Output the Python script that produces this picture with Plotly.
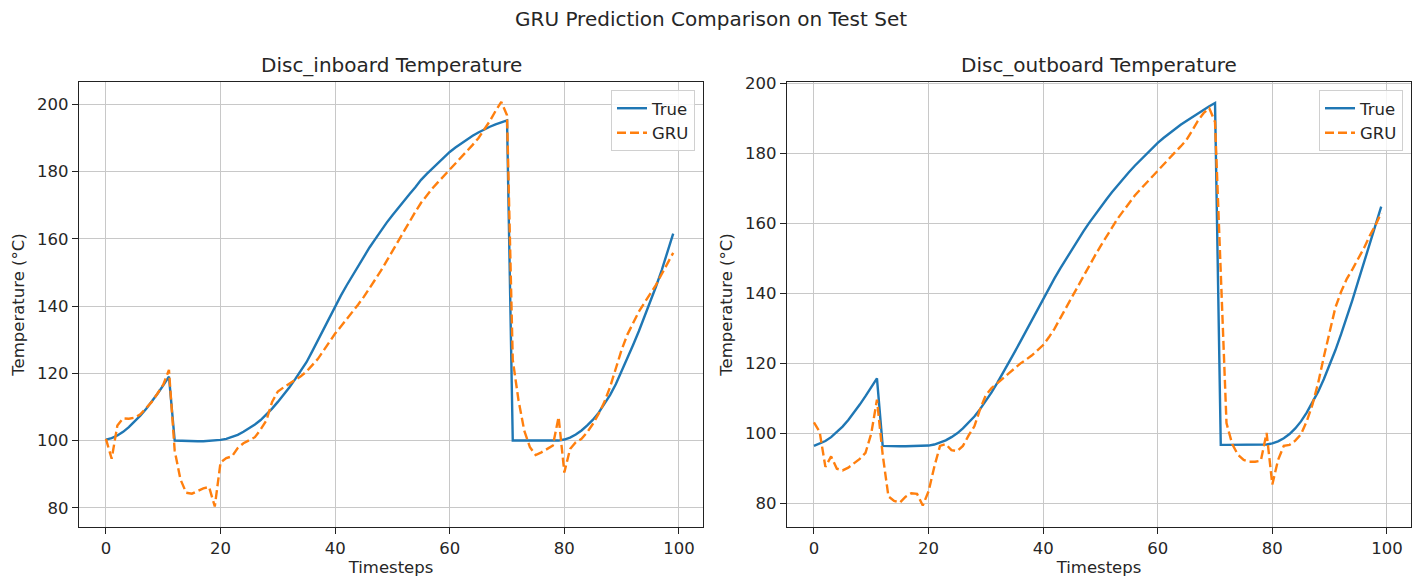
import plotly.graph_objects as go

timesteps = list(range(100))

inboard_true = [
    100.3, 100.7, 101.5, 102.6, 104.0, 105.6, 107.4, 109.4, 111.5, 113.9, 116.4, 119.0,
    100.0, 99.9, 99.9, 99.8, 99.8, 99.8, 99.9, 100.0,
    100.2, 100.5, 101.0, 101.7, 102.6, 103.6, 104.8, 106.1, 107.7, 109.5,
    111.5, 113.6, 115.8, 118.2, 120.7, 123.3, 126.5, 129.8, 133.2, 136.6,
    140.0, 143.1, 146.1, 149.0, 151.9, 154.8, 157.4, 159.9, 162.4, 164.8,
    167.0, 169.2, 171.3, 173.3, 175.3, 177.5, 179.3, 181.0, 182.7, 184.3,
    185.8, 187.1, 188.3, 189.5, 190.6, 191.6, 192.5, 193.3, 194.0, 194.6,
    195.2,
    100.0, 100.0, 100.0, 100.0, 100.0, 100.0, 100.0, 100.0, 100.0,
    100.3, 100.9, 101.8, 103.0, 104.5, 106.2, 108.3, 110.8, 113.6, 116.8,
    120.5, 124.4, 128.4, 132.5, 136.8, 141.2, 145.8, 150.7, 155.9, 161.5,
]

inboard_gru = [
    100.5, 94.6, 104.5, 106.6, 106.5, 106.8, 107.8, 109.5, 111.5, 114.0, 116.6, 121.0,
    97.0, 88.5, 84.5, 84.2, 85.0, 85.8, 86.2, 80.4,
    93.5, 94.8, 95.3, 97.8, 99.2, 100.2, 101.0, 103.3, 106.0, 111.5,
    114.6, 115.8, 116.9, 117.9, 119.1, 120.5, 122.3, 124.3, 126.8, 129.5,
    131.8, 133.9, 136.0, 138.2, 140.4, 142.7, 145.2, 147.8, 150.5, 153.4,
    156.4, 159.4, 162.4, 165.2, 168.0, 170.7, 173.0, 175.0, 176.9, 178.7,
    180.4, 182.2, 184.0, 185.9, 187.9, 189.9, 192.3, 195.0, 198.0, 200.7,
    196.7, 124.0, 112.0, 103.0, 98.0, 95.7, 96.5, 97.5, 98.5, 107.0,
    90.5, 97.5, 99.5, 100.5, 102.5, 105.0, 108.0, 111.5, 116.0, 121.5,
    127.0, 131.5, 135.0, 138.3, 141.0, 143.5, 146.3, 149.5, 152.8, 155.8,
]

outboard_true = [
    96.5, 97.1, 97.9, 99.0, 100.4, 102.0, 103.9, 106.0, 108.3, 110.7, 113.2, 115.8,
    96.5, 96.4, 96.4, 96.4, 96.4, 96.4, 96.4, 96.5,
    96.6, 96.9, 97.4, 98.1, 99.0, 100.1, 101.5, 103.1, 104.9, 107.0,
    109.3, 111.8, 114.5, 117.3, 120.2, 123.2, 126.2, 129.3, 132.4, 135.5,
    138.5, 141.5, 144.4, 147.2, 149.9, 152.6, 155.2, 157.7, 160.1, 162.4,
    164.6, 166.8, 168.9, 170.9, 172.8, 174.7, 176.5, 178.2, 179.9, 181.5,
    183.0, 184.4, 185.7, 187.0, 188.2, 189.3, 190.4, 191.5, 192.5, 193.5,
    194.4,
    96.8, 96.8, 96.8, 96.8, 96.8, 96.8, 96.8, 96.8, 96.9,
    97.2, 97.8, 98.7, 99.9, 101.5, 103.5, 106.0, 109.0, 112.0, 115.6,
    119.5, 123.8, 128.4, 133.2, 138.3, 143.6, 149.0, 154.3, 159.6, 164.8,
]

outboard_gru = [
    103.2, 100.5, 90.5, 93.5, 90.0, 89.5, 90.3, 91.5, 92.8, 94.5, 100.0, 109.7,
    94.0, 82.1, 80.8, 80.3, 82.0, 83.0, 82.8, 79.5,
    83.5, 90.5, 96.5, 97.0, 95.3, 95.0, 96.5, 99.5, 102.1, 107.0,
    111.0, 113.0, 114.5, 115.8, 117.2, 118.6, 120.0, 121.1, 122.3, 123.8,
    125.3, 127.5, 130.0, 133.0, 136.0, 138.8, 141.8, 144.8, 147.8, 150.7,
    153.5, 156.2, 158.8, 161.4, 163.6, 165.8, 168.0, 169.8, 171.6, 173.4,
    175.1, 176.9, 178.6, 180.3, 182.0, 183.8, 186.5, 189.3, 191.5, 192.9,
    189.0, 144.5, 103.0, 97.0, 94.0, 92.5, 92.0, 92.0, 92.3, 100.2,
    85.5, 92.5, 96.5, 96.8, 98.0, 99.8, 103.5, 108.3, 114.5, 122.0,
    129.5, 136.0, 140.5, 144.2, 147.0, 150.0, 153.0, 156.5, 159.5, 163.0,
]

x_ticks = [0, 20, 40, 60, 80, 100]
y_ticks = [80, 100, 120, 140, 160, 180, 200]

suptitle = "GRU Prediction Comparison on Test Set"
titles = ["Disc_inboard Temperature", "Disc_outboard Temperature"]

BLUE = "#1f77b4"
ORANGE = "#ff7f0e"
FONT = "DejaVu Sans"
TXT = "#262626"
FS = 16.5
TFS = 20

fig = go.Figure()

DASH = "9px,4px"
fig.add_trace(go.Scatter(x=timesteps, y=inboard_true, name="True", mode="lines",
                         line=dict(color=BLUE, width=2.4), xaxis="x", yaxis="y", legend="legend"))
fig.add_trace(go.Scatter(x=timesteps, y=inboard_gru, name="GRU", mode="lines",
                         line=dict(color=ORANGE, width=2.4, dash=DASH), xaxis="x", yaxis="y", legend="legend"))
fig.add_trace(go.Scatter(x=timesteps, y=outboard_true, name="True", mode="lines",
                         line=dict(color=BLUE, width=2.4), xaxis="x2", yaxis="y2", legend="legend2"))
fig.add_trace(go.Scatter(x=timesteps, y=outboard_gru, name="GRU", mode="lines",
                         line=dict(color=ORANGE, width=2.4, dash=DASH), xaxis="x2", yaxis="y2", legend="legend2"))

W, H = 1422, 581
ydom = [(H - 527) / H, (H - 82) / H]
xdom1 = [79 / W, 703 / W]
xdom2 = [787 / W, 1411 / W]

axis_common = dict(
    showline=True, linecolor="#222", linewidth=1.2, mirror=True,
    ticks="outside", ticklen=6, tickcolor="#222", tickwidth=1.2,
    showgrid=True, gridcolor="#c8c8c8", gridwidth=1.2,
    zeroline=False, automargin=False,
    tickfont=dict(family=FONT, size=FS, color=TXT),
)

xcommon = dict(axis_common, tickvals=x_ticks, range=[-4.7, 104.2],
               title=dict(text="Timesteps", font=dict(family=FONT, size=FS, color=TXT), standoff=4))
ycommon = dict(axis_common, tickvals=y_ticks,
               title=dict(text="Temperature (°C)", font=dict(family=FONT, size=FS, color=TXT), standoff=8))

legend_common = dict(
    bgcolor="rgba(255,255,255,0.8)", bordercolor="#d0d0d0", borderwidth=1,
    font=dict(family=FONT, size=FS, color=TXT), yanchor="top", xanchor="right",
)

fig.update_layout(
    width=W, height=H,
    margin=dict(l=0, r=0, t=0, b=0),
    paper_bgcolor="white", plot_bgcolor="white",
    font=dict(family=FONT, color=TXT),
    xaxis=dict(xcommon, domain=xdom1, anchor="y"),
    yaxis=dict(ycommon, domain=ydom, anchor="x", range=[74.3, 206.6]),
    xaxis2=dict(xcommon, domain=xdom2, anchor="y2"),
    yaxis2=dict(ycommon, domain=ydom, anchor="x2", range=[73.35, 200.4]),
    legend=dict(legend_common, x=695 / W, y=(H - 90) / H),
    legend2=dict(legend_common, x=1403 / W, y=(H - 90) / H),
    annotations=[
        dict(text=suptitle, x=0.5, y=(H - 19) / H, xref="paper", yref="paper",
             showarrow=False, xanchor="center", yanchor="middle",
             font=dict(family=FONT, size=TFS, color=TXT)),
        dict(text=titles[0], x=(xdom1[0] + xdom1[1]) / 2, y=(H - 65) / H, xref="paper", yref="paper",
             showarrow=False, xanchor="center", yanchor="middle",
             font=dict(family=FONT, size=TFS, color=TXT)),
        dict(text=titles[1], x=(xdom2[0] + xdom2[1]) / 2, y=(H - 65) / H, xref="paper", yref="paper",
             showarrow=False, xanchor="center", yanchor="middle",
             font=dict(family=FONT, size=TFS, color=TXT)),
    ],
)

fig.write_html("out.html")
